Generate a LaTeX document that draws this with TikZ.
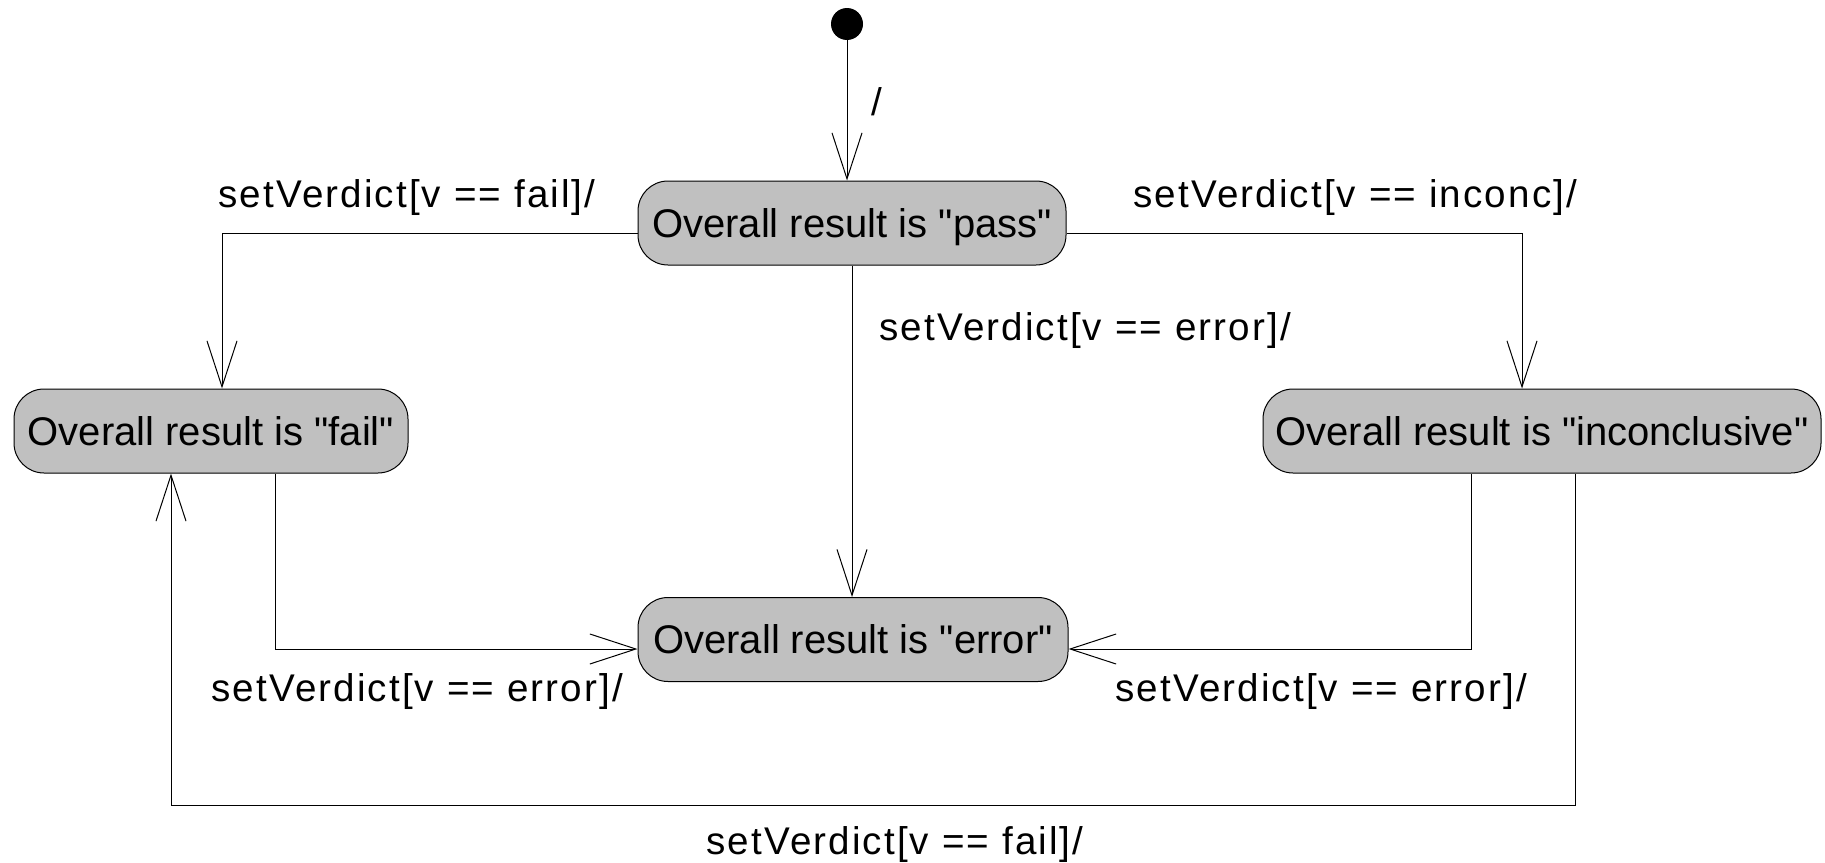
\documentclass[tikz,border=0pt]{standalone}
\usepackage{fontspec}
\setmainfont{Liberation Sans}[Ligatures=TeXOff]
\newfontfamily\lblfont[LetterSpace=5.5,Ligatures=TeXOff]{Liberation Sans}
\usetikzlibrary{arrows.meta}
\definecolor{stategray}{HTML}{C0C0C0}
\begin{document}
\begin{tikzpicture}[x=0.5pt,y=-0.5pt,
  statebox/.style={draw=black, line width=0.5pt, fill=stategray, rounded corners=15pt,
    minimum height=42pt, inner sep=0pt, font=\fontsize{20}{24}\selectfont,
    text height=14.3pt, text depth=0pt},
  arr/.style={line width=0.5pt, -{Straight Barb[length=23pt,width=15pt,line width=0.5pt]}},
  lbl/.style={anchor=base west, inner sep=0pt, font=\lblfont\fontsize{19.3}{23}\selectfont}]
\useasboundingbox (0,0) rectangle (1825,862);
\node[circle, fill=black, minimum size=16pt, inner sep=0pt] (init) at (847,24) {};
\node[statebox, minimum width=214pt] (pass) at (852,223) {Overall result is "pass"};
\node[statebox, minimum width=197pt] (fail) at (211,431) {Overall result is "fail"};
\node[statebox, minimum width=279pt] (inconc) at (1542,431) {Overall result is "inconclusive"};
\node[statebox, minimum width=215pt] (error) at (853,639.5) {Overall result is "error"};
\coordinate (bend) at (171,805);
% connectors
\draw[arr] (init.south) -- (init.south |- pass.north);
\draw[arr] ([yshift=-5pt]pass.west) -| ([xshift=5.5pt]fail.north);
\draw[arr] ([yshift=-5pt]pass.east) -| ([xshift=-10pt]inconc.north);
\draw[arr] (pass.south) -- (pass.south |- error.north);
\draw[arr] ([xshift=32pt]fail.south) |- ([yshift=-4.75pt]error.west);
\draw[arr] ([xshift=-35.5pt]inconc.south) |- ([yshift=-4.75pt]error.east);
\draw[arr] ([xshift=16.5pt]inconc.south) |- (bend) -- (bend |- fail.south);
% labels
\node[lbl] (l0) at (871,115) {/};
\node[lbl] (l1) at (218,207) {setVerdict[v == fail]/};
\node[lbl] (l2) at (1133,207) {setVerdict[v == inconc]/};
\node[lbl] (l3) at (879,340) {setVerdict[v == error]/};
\node[lbl] (l4) at (211,701) {setVerdict[v == error]/};
\node[lbl] (l5) at (1115,701) {setVerdict[v == error]/};
\node[lbl] (l6) at (706,854) {setVerdict[v == fail]/};
\end{tikzpicture}
\end{document}
